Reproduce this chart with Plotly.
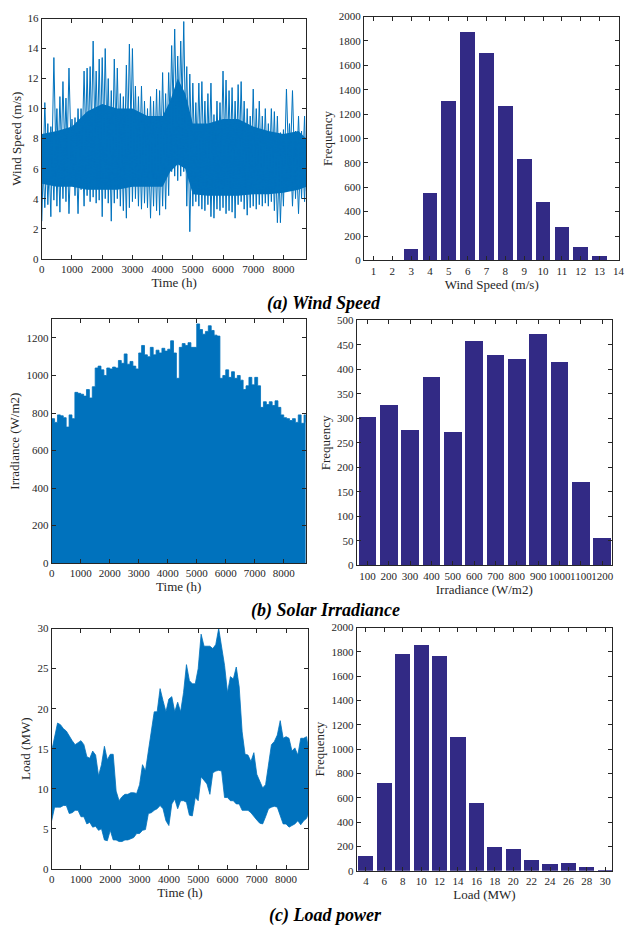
import plotly.graph_objects as go

# ---------------- data ----------------
# time grid of the envelope readings (hours)
time_h = list(range(0, 8701, 100)) + [8760]

# wind speed (m/s): upper / lower extremes of the hourly trace, per ~100 h
wind_hi = [8.0, 10.4, 9.0, 8.8, 13.4, 10.0, 10.8, 11.8, 10.7, 12.7,
           9.3, 9.4, 10.0, 10.0, 12.5, 12.7, 12.8, 14.5, 12.5, 13.3,
           13.4, 14.0, 12.0, 11.2, 13.3, 12.7, 11.0, 10.8, 12.9, 14.3,
           14.0, 11.5, 10.8, 11.5, 10.5, 10.0, 10.8, 10.5, 11.3, 11.2,
           12.4, 11.0, 12.4, 14.2, 15.3, 13.5, 14.5, 15.8, 12.8, 12.3,
           11.7, 10.4, 11.7, 11.8, 10.5, 11.0, 11.7, 9.6, 10.5, 10.4,
           12.5, 11.9, 11.2, 11.4, 10.5, 11.6, 11.8, 10.5, 10.0, 9.5,
           11.3, 10.0, 10.5, 9.5, 10.0, 9.0, 10.0, 9.8, 9.5, 8.4,
           8.6, 11.3, 9.0, 11.2, 8.5, 9.5, 8.5, 9.5,
           7.5]
wind_lo = [2.5, 3.4, 3.6, 2.8, 3.9, 3.5, 3.1, 4.0, 3.8, 3.0,
           5.0, 4.2, 3.0, 4.6, 3.5, 4.2, 3.8, 4.1, 3.7, 3.9,
           2.8, 4.0, 3.7, 2.5, 3.7, 4.0, 3.5, 3.2, 2.7, 3.4,
           3.8, 4.0, 3.5, 3.3, 3.7, 3.4, 2.7, 3.5, 3.2, 2.9,
           3.5, 3.3, 4.2, 5.8, 5.5, 5.2, 5.5, 5.8, 3.5, 1.8,
           3.5, 3.8, 3.5, 3.3, 3.2, 3.6, 2.8, 2.7, 3.3, 3.2,
           3.4, 3.0, 3.2, 3.1, 2.7, 3.6, 3.8, 3.3, 2.9, 3.4,
           3.5, 3.3, 3.6, 3.5, 3.7, 3.5, 3.8, 3.2, 2.4, 2.4,
           3.5, 4.5, 4.8, 3.5, 4.0, 3.0, 4.0, 3.8,
           4.5]
# dense (solid) core of the wind trace
core_time = [0, 500, 1000, 1500, 2000, 2500, 3000, 3500, 4000, 4250, 4500,
             4750, 5000, 5500, 6000, 6500, 7000, 7500, 8000, 8500, 8760]
wind_core_hi = [8.3, 8.5, 8.8, 9.8, 10.3, 10.0, 10.0, 9.5, 9.5, 10.5, 12.0,
                11.0, 9.0, 9.0, 9.3, 9.3, 8.8, 8.5, 8.3, 8.5, 8.0]
wind_core_lo = [5.0, 4.8, 4.8, 4.6, 4.6, 4.6, 4.8, 4.8, 4.8, 5.8, 6.3,
                6.0, 4.3, 4.2, 4.2, 4.2, 4.3, 4.3, 4.4, 4.6, 4.8]

# solar irradiance (W/m2): daily peak envelope (night values are 0)
solar_hi = [770, 750, 790, 785, 775, 725, 790, 770, 910, 905,
            900, 890, 925, 880, 940, 1040, 1050, 1030, 1000, 1040,
            1035, 1045, 1040, 1080, 1065, 1115, 1060, 1075, 1050, 1035,
            1120, 1160, 1110, 1100, 1150, 1110, 1135, 1120, 1145, 1130,
            1140, 1185, 1120, 985, 1150, 1170, 1160, 1175, 1150, 1150,
            1275, 1245, 1220, 1235, 1265, 1240, 1215, 1210, 985, 1000,
            1030, 990, 1020, 985, 1000, 975, 925, 945, 990, 950,
            990, 945, 830, 860, 845, 860, 840, 865, 830, 790,
            775, 770, 760, 770, 750, 790, 745, 790,
            750]

# load (MW): upper / lower extremes of the hourly trace
load_hi = [14.7, 16.5, 18.2, 18.0, 17.5, 17.2, 16.5, 16.0, 15.5, 15.7,
           16.0, 15.5, 14.0, 13.8, 14.7, 14.2, 11.6, 13.0, 15.3, 13.6,
           14.3, 14.3, 9.7, 8.5, 9.0, 9.3, 9.3, 9.5, 9.5, 9.4,
           10.5, 13.0, 12.2, 14.7, 17.1, 19.6, 19.6, 22.5, 21.0, 19.6,
           21.2, 21.5, 19.6, 20.8, 19.6, 22.0, 25.5, 23.5, 23.1, 23.1,
           25.0, 29.3, 27.8, 27.8, 27.8, 27.5, 28.0, 30.0, 27.8, 25.4,
           22.0, 24.0, 23.7, 25.2, 22.7, 17.1, 14.3, 14.2, 13.4, 14.5,
           11.8, 11.0, 10.1, 10.5, 13.0, 15.5, 15.9, 16.7, 18.5, 16.3,
           16.5, 16.3, 14.7, 15.1, 14.2, 16.3, 16.3, 16.5,
           15.0]
load_lo = [6.0, 7.7, 7.7, 7.7, 7.9, 7.9, 6.9, 7.0, 7.3, 7.3,
           6.5, 6.5, 5.6, 5.8, 5.2, 5.3, 4.8, 5.0, 3.6, 3.5,
           4.8, 3.6, 3.6, 3.4, 3.4, 3.6, 3.6, 3.8, 3.9, 4.4,
           4.4, 4.8, 4.9, 6.9, 7.0, 7.3, 7.5, 7.9, 7.5, 6.0,
           5.4, 8.1, 8.7, 7.5, 8.5, 8.5, 8.3, 6.7, 6.6, 8.9,
           8.5, 11.5, 11.0, 10.6, 9.3, 12.0, 12.2, 12.3, 12.2, 8.9,
           8.9, 8.5, 8.5, 8.1, 8.1, 7.3, 7.3, 7.3, 7.0, 6.5,
           6.1, 5.7, 5.6, 6.5, 7.5, 7.7, 7.8, 7.7, 6.5, 5.6,
           5.6, 5.2, 5.4, 5.6, 6.0, 5.5, 6.0, 6.3,
           6.9]

# histograms
wind_bins = [1, 2, 3, 4, 5, 6, 7, 8, 9, 10, 11, 12, 13, 14]
wind_freq = [3, 2, 95, 555, 1305, 1870, 1700, 1270, 830, 480, 275, 112, 32, 0]

solar_bins = [100, 200, 300, 400, 500, 600, 700, 800, 900, 1000, 1100, 1200]
solar_freq = [303, 328, 276, 385, 272, 458, 430, 420, 472, 415, 170, 55]

load_bins = [4, 6, 8, 10, 12, 14, 16, 18, 20, 22, 24, 26, 28, 30]
load_freq = [125, 725, 1780, 1855, 1765, 1100, 560, 195, 175, 85, 55, 60, 28, 3]

time_ticks = [0, 1000, 2000, 3000, 4000, 5000, 6000, 7000, 8000]

# ---------------- styling ----------------
W, H = 628, 934
LINE_BLUE = "#0072BD"
BAR_COLOR = "#322a85"
AX = "#262626"
FONT = "Liberation Serif, Times New Roman, serif"

def dom_x(a, b):
    return [a / W, b / W]

def dom_y(top, bottom):
    return [1 - bottom / H, 1 - top / H]

panels = {
    1: dict(x=(39.3, 307.3), y=(12.7, 256.0)),
    2: dict(x=(365.7, 624.3), y=(10.7, 257.7)),
    3: dict(x=(49.3, 306.7), y=(317.3, 564.3)),
    4: dict(x=(358.3, 616.7), y=(318.3, 566.7)),
    5: dict(x=(49.3, 309.3), y=(630.7, 874.0)),
    6: dict(x=(358.3, 617.0), y=(629.7, 876.0)),
}

def axis_style(**kw):
    d = dict(showline=True, mirror="ticks", linecolor=AX, linewidth=1,
             ticks="inside", ticklen=4, tickcolor=AX, tickwidth=1,
             tickfont=dict(family=FONT, size=11, color=AX), tickangle=0,
             showgrid=False, zeroline=False, fixedrange=True)
    d.update(kw)
    return d

def title(text, standoff):
    return dict(text=text, font=dict(family=FONT, size=13, color=AX), standoff=standoff)

fig = go.Figure()

def axes(n):
    return ("x" if n == 1 else f"x{n}"), ("y" if n == 1 else f"y{n}")

def band(n, x, lo, hi, width=0):
    xa, ya = axes(n)
    fig.add_trace(go.Scatter(x=x, y=lo, mode="lines", xaxis=xa, yaxis=ya,
                             line=dict(color=LINE_BLUE, width=width), hoverinfo="skip"))
    fig.add_trace(go.Scatter(x=x, y=hi, mode="lines", xaxis=xa, yaxis=ya,
                             fill="tonexty", fillcolor=LINE_BLUE,
                             line=dict(color=LINE_BLUE, width=width), hoverinfo="skip"))

def zigzags(n, lo, hi, width):
    """Two crossing zig-zags through the read extremes (hi/lo alternate)."""
    xa, ya = axes(n)
    for start in (0, 1):
        ys = [(hi[i] if (i + start) % 2 == 0 else lo[i]) for i in range(len(time_h))]
        fig.add_trace(go.Scatter(x=time_h, y=ys, mode="lines", xaxis=xa, yaxis=ya,
                                 line=dict(color=LINE_BLUE, width=width)))

def hist(n, bins, freq, width):
    xa, ya = axes(n)
    fig.add_trace(go.Bar(x=bins, y=freq, width=width, xaxis=xa, yaxis=ya,
                         marker=dict(color=BAR_COLOR, line=dict(width=0))))

# (a) wind: dense core + swings to the read extremes
band(1, core_time, wind_core_lo, wind_core_hi)
zigzags(1, wind_lo, wind_hi, 1.0)
hist(2, wind_bins, wind_freq, 0.78)
# (b) solar
fig.add_trace(go.Scatter(x=time_h, y=solar_hi, mode="lines", xaxis="x3", yaxis="y3",
                         line=dict(color=LINE_BLUE, width=0.8, shape="hv"),
                         fill="tozeroy", fillcolor=LINE_BLUE))
hist(4, solar_bins, solar_freq, 82)
# (c) load: dense band between the read extremes
band(5, time_h, load_lo, load_hi, width=0.8)
hist(6, load_bins, load_freq, 1.64)

layout = dict(width=W, height=H, margin=dict(l=0, r=0, t=0, b=0),
              paper_bgcolor="white", plot_bgcolor="white", showlegend=False,
              bargap=0)

# time-series panels
for n, yr, ytitle, ydt in [(1, [0, 16], "Wind Speed (m/s)", 2),
                           (3, [0, 1300], "Irradiance (W/m2)", 200),
                           (5, [0, 30], "Load (MW)", 5)]:
    sx = "" if n == 1 else str(n)
    layout[f"xaxis{sx}"] = axis_style(domain=dom_x(*panels[n]["x"]), anchor=f"y{sx}",
                                      range=[0, 8760], tickvals=time_ticks,
                                      title=title("Time (h)", 3))
    layout[f"yaxis{sx}"] = axis_style(domain=dom_y(*panels[n]["y"]), anchor=f"x{sx}",
                                      range=yr, dtick=ydt, tick0=0,
                                      title=title(ytitle, 3))

# histogram panels
for n, bins, xr, xtitle, yr, ydt in [(2, wind_bins, [0.5, 14.05], "Wind Speed (m/s)", [0, 2000], 200),
                                     (4, solar_bins, [50, 1245], "Irradiance (W/m2)", [0, 500], 50),
                                     (6, load_bins, [3, 30.75], "Load (MW)", [0, 2000], 200)]:
    layout[f"xaxis{n}"] = axis_style(domain=dom_x(*panels[n]["x"]), anchor=f"y{n}",
                                     range=xr, tickvals=bins,
                                     ticktext=[str(b) for b in bins],
                                     title=title(xtitle, 3))
    layout[f"yaxis{n}"] = axis_style(domain=dom_y(*panels[n]["y"]), anchor=f"x{n}",
                                     range=yr, dtick=ydt, tick0=0,
                                     title=title("Frequency", 3))

captions = [("(a) Wind Speed", 325, 301),
            ("(b) Solar Irradiance", 327, 612),
            ("(c) Load power", 327, 921)]
layout["annotations"] = [
    dict(text=t, x=cx / W, y=1 - cy / H, xref="paper", yref="paper",
         xanchor="center", yanchor="middle", showarrow=False,
         font=dict(family=FONT, size=18, color="black", weight="bold", style="italic"))
    for t, cx, cy in captions
]

fig.update_layout(**layout)
fig.write_html("out.html", config={"displayModeBar": False, "staticPlot": True},
               post_script="document.body.style.margin='0';")
